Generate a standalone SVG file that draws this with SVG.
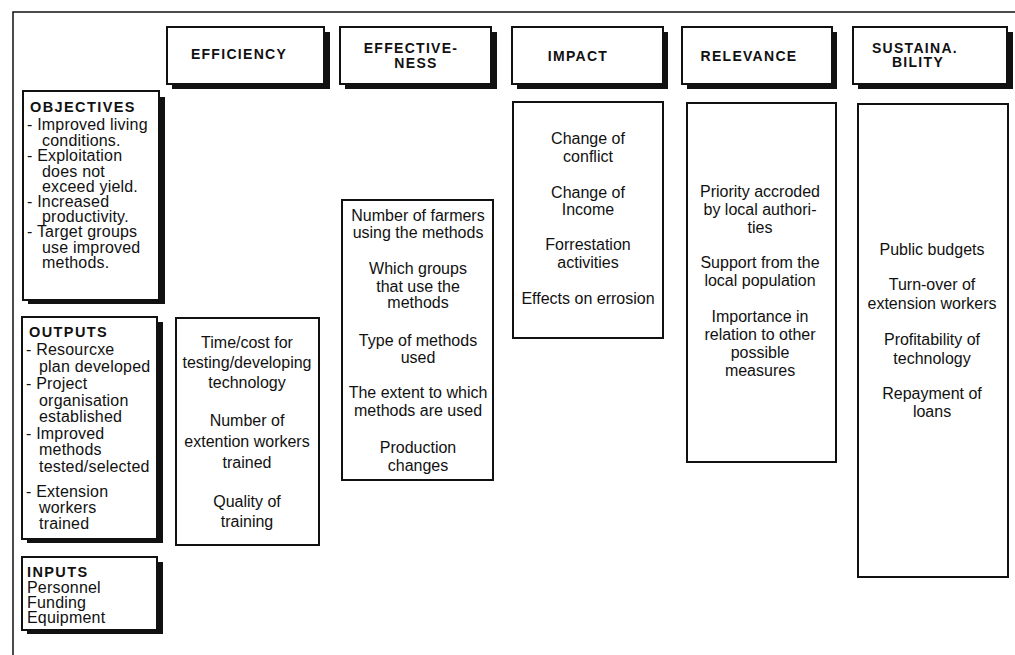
<svg xmlns="http://www.w3.org/2000/svg" width="1015" height="655" viewBox="0 0 1015 655">
<style>
.frame{fill:none;stroke:#111;stroke-width:1.5}
.box{fill:#fff;stroke:#111;stroke-width:2}
.sh{fill:#111}
.hd{font-family:"Liberation Sans",Arial,sans-serif;font-weight:bold;font-size:14px;letter-spacing:1.3px;fill:#111;text-anchor:middle}
.tt{font-family:"Liberation Sans",Arial,sans-serif;font-weight:bold;font-size:14.5px;letter-spacing:1.4px;fill:#111}
.lt{font-family:"Liberation Sans",Arial,sans-serif;font-size:16px;letter-spacing:0.2px;fill:#111}
.bt{font-family:"Liberation Sans",Arial,sans-serif;font-size:16px;fill:#111;text-anchor:middle}
</style>
<rect width="1015" height="655" fill="#fff"/>
<g id="frame">
<path class="frame" d="M13 655 V12 H1015"/>
</g>
<g id="h-efficiency">
<rect class="sh" x="172" y="32" width="158" height="57"/>
<rect class="box" x="167" y="27" width="157" height="57"/>
<text class="hd" x="239" y="59">EFFICIENCY</text>
</g>
<g id="h-effectiveness">
<rect class="sh" x="345" y="32" width="152" height="57"/>
<rect class="box" x="340" y="27" width="151" height="57"/>
<text class="hd" x="411" y="53">EFFECTIVE-</text>
<text class="hd" x="416" y="68">NESS</text>
</g>
<g id="h-impact">
<rect class="sh" x="517" y="32" width="151" height="57"/>
<rect class="box" x="512" y="27" width="151" height="57"/>
<text class="hd" x="578" y="61">IMPACT</text>
</g>
<g id="h-relevance">
<rect class="sh" x="687" y="32" width="150" height="57"/>
<rect class="box" x="682" y="27" width="150" height="57"/>
<text class="hd" x="749" y="61">RELEVANCE</text>
</g>
<g id="h-sustainability">
<rect class="sh" x="858" y="32" width="155" height="57"/>
<rect class="box" x="853" y="27" width="154" height="57"/>
<text class="hd" x="915" y="53">SUSTAINA.</text>
<text class="hd" x="918" y="67">BILITY</text>
</g>
<g id="objectives">
<rect class="sh" x="28" y="97" width="137" height="207"/>
<rect class="box" x="23" y="91" width="136" height="209"/>
<text class="tt" x="30" y="112">OBJECTIVES</text>
<text class="lt" x="27" y="130">- Improved living</text>
<text class="lt" x="42" y="146">conditions.</text>
<text class="lt" x="27" y="161">- Exploitation</text>
<text class="lt" x="42" y="177">does not</text>
<text class="lt" x="42" y="192">exceed yield.</text>
<text class="lt" x="27" y="207">- Increased</text>
<text class="lt" x="42" y="222">productivity.</text>
<text class="lt" x="27" y="237">- Target groups</text>
<text class="lt" x="42" y="253">use improved</text>
<text class="lt" x="42" y="268">methods.</text>
</g>
<g id="outputs">
<rect class="sh" x="27" y="322" width="136" height="221"/>
<rect class="box" x="22" y="317" width="135" height="222"/>
<text class="tt" x="29" y="337">OUTPUTS</text>
<text class="lt" x="26" y="355">- Resourcxe</text>
<text class="lt" x="39" y="372">plan developed</text>
<text class="lt" x="26" y="389">- Project</text>
<text class="lt" x="39" y="406">organisation</text>
<text class="lt" x="39" y="422">established</text>
<text class="lt" x="26" y="439">- Improved</text>
<text class="lt" x="39" y="455">methods</text>
<text class="lt" x="39" y="472">tested/selected</text>
<text class="lt" x="26" y="497">- Extension</text>
<text class="lt" x="39" y="513">workers</text>
<text class="lt" x="39" y="529">trained</text>
</g>
<g id="inputs">
<rect class="sh" x="27" y="562" width="136" height="72"/>
<rect class="box" x="22" y="557" width="135" height="73"/>
<text class="tt" x="27" y="577">INPUTS</text>
<text class="lt" x="27" y="593">Personnel</text>
<text class="lt" x="27" y="608">Funding</text>
<text class="lt" x="27" y="623">Equipment</text>
</g>
<g id="b-efficiency">
<rect class="box" x="176" y="318" width="143" height="227"/>
<text class="bt" x="247" y="348">Time/cost for</text>
<text class="bt" x="247" y="368">testing/developing</text>
<text class="bt" x="247" y="388">technology</text>
<text class="bt" x="247" y="426">Number of</text>
<text class="bt" x="247" y="447">extention workers</text>
<text class="bt" x="247" y="468">trained</text>
<text class="bt" x="247" y="507">Quality of</text>
<text class="bt" x="247" y="527">training</text>
</g>
<g id="b-effectiveness">
<rect class="box" x="342" y="200" width="151" height="280"/>
<text class="bt" x="418" y="221">Number of farmers</text>
<text class="bt" x="418" y="238">using the methods</text>
<text class="bt" x="418" y="274">Which groups</text>
<text class="bt" x="418" y="292">that use the</text>
<text class="bt" x="418" y="308">methods</text>
<text class="bt" x="418" y="346">Type of methods</text>
<text class="bt" x="418" y="363">used</text>
<text class="bt" x="418" y="398">The extent to which</text>
<text class="bt" x="418" y="416">methods are used</text>
<text class="bt" x="418" y="453">Production</text>
<text class="bt" x="418" y="471">changes</text>
</g>
<g id="b-impact">
<rect class="box" x="513" y="102" width="150" height="236"/>
<text class="bt" x="588" y="144">Change of</text>
<text class="bt" x="588" y="162">conflict</text>
<text class="bt" x="588" y="198">Change of</text>
<text class="bt" x="588" y="215">Income</text>
<text class="bt" x="588" y="250">Forrestation</text>
<text class="bt" x="588" y="268">activities</text>
<text class="bt" x="588" y="304">Effects on errosion</text>
</g>
<g id="b-relevance">
<rect class="box" x="687" y="103" width="149" height="359"/>
<text class="bt" x="760" y="197">Priority accroded</text>
<text class="bt" x="760" y="215">by local authori-</text>
<text class="bt" x="760" y="233">ties</text>
<text class="bt" x="760" y="268">Support from the</text>
<text class="bt" x="760" y="286">local population</text>
<text class="bt" x="760" y="322">Importance in</text>
<text class="bt" x="760" y="340">relation to other</text>
<text class="bt" x="760" y="358">possible</text>
<text class="bt" x="760" y="376">measures</text>
</g>
<g id="b-sustainability">
<rect class="box" x="858" y="104" width="150" height="473"/>
<text class="bt" x="932" y="255">Public budgets</text>
<text class="bt" x="932" y="290">Turn-over of</text>
<text class="bt" x="932" y="309">extension workers</text>
<text class="bt" x="932" y="345">Profitability of</text>
<text class="bt" x="932" y="364">technology</text>
<text class="bt" x="932" y="399">Repayment of</text>
<text class="bt" x="932" y="417">loans</text>
</g>
<g id="connectors"></g>
</svg>
